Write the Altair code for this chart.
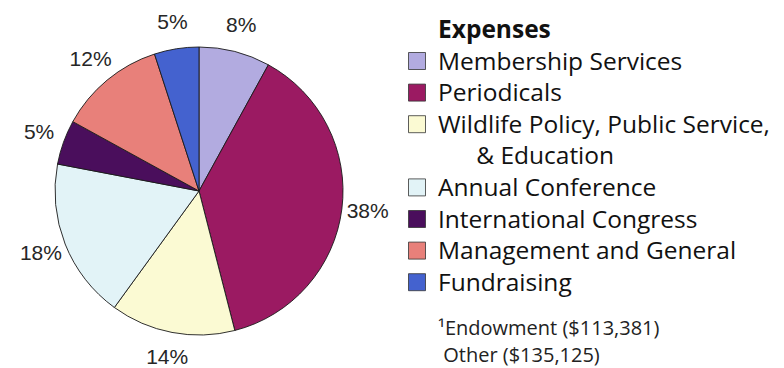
import altair as alt
import pandas as pd

# ---- data ----
IND = "\u200b" + "\u00a0" * 6
categories = [
    "Membership Services",
    "Periodicals",
    "Wildlife Policy, Public Service,\n" + IND + "& Education",
    "Annual Conference",
    "International Congress",
    "Management and General",
    "Fundraising",
]
percents = [8, 38, 14, 18, 5, 12, 5]
colors = ["#b2abe0", "#9b1a62", "#fbfad3", "#e2f3f7", "#4a0e5c", "#e8807a", "#4462cf"]
title_text = "Expenses"
footnotes = ["\u00b9Endowment ($113,381)", "\u200b\u00a0Other ($135,125)"]

# ---- derived tables ----
rows = []
r = 1
for c in categories:
    rows.append(r)
    r += c.count("\n") + 1

df = pd.DataFrame({
    "category": categories,
    "value": percents,
    "label": [f"{p}%" for p in percents],
    "order": list(range(len(categories))),
    "row": rows,
})
foot_df = pd.DataFrame({"text": footnotes, "row": [r + 0.48, r + 1.34]})

W, H = 784, 368
CX, CY, R = 199, 191, 144
ROW_PX, ROW0_PX = 31.6, 29.4
y0 = -ROW0_PX / ROW_PX
y1 = y0 + H / ROW_PX
yscale = alt.Scale(domain=[y0, y1], reverse=True, nice=False, zero=False)

color_scale = alt.Scale(domain=categories, range=colors)

base = alt.Chart(df)

pie = base.mark_arc(outerRadius=R, stroke="#1a1a1a", strokeWidth=0.9).encode(
    theta=alt.Theta("value:Q", stack=True),
    color=alt.Color("category:N", scale=color_scale, legend=None),
    order=alt.Order("order:Q"),
    x=alt.value(CX),
    y=alt.value(CY),
)

pie_labels = base.mark_text(
    radius=170, font="Liberation Sans", fontSize=21, color="#262626"
).encode(
    theta=alt.Theta("value:Q", stack=True),
    order=alt.Order("order:Q"),
    text="label:N",
    x=alt.value(CX),
    y=alt.value(CY),
)

squares = base.mark_square(size=289, stroke="#333333", strokeWidth=0.8, opacity=1).encode(
    x=alt.value(417),
    y=alt.Y("row:Q", scale=yscale, axis=None),
    color=alt.Color("category:N", scale=color_scale, legend=None),
)

leg_text = base.mark_text(
    align="left", baseline="alphabetic", dy=8.5, lineBreak="\n", lineHeight=ROW_PX,
    font="Open Sans", fontSize=24.5, color="#111111",
).encode(
    x=alt.value(438),
    y=alt.Y("row:Q", scale=yscale, axis=None),
    text="category:N",
)

title = alt.Chart(pd.DataFrame({"t": [title_text]})).mark_text(
    align="left", baseline="alphabetic", font="Open Sans", fontSize=24.5,
    fontWeight="bold", color="#111111",
).encode(x=alt.value(438), y=alt.value(38), text="t:N")

foot = alt.Chart(foot_df).mark_text(
    align="left", baseline="middle", font="Open Sans", fontSize=20, color="#222222",
).encode(
    x=alt.value(438),
    y=alt.Y("row:Q", scale=yscale, axis=None),
    text="text:N",
)

chart = alt.layer(pie, pie_labels, squares, leg_text, title, foot).properties(
    width=W, height=H, autosize=alt.AutoSizeParams(type="none"), padding=0,
    background="white",
).configure_view(stroke=None)

chart.save("out.html", embed_options={"renderer": "svg", "actions": False})
